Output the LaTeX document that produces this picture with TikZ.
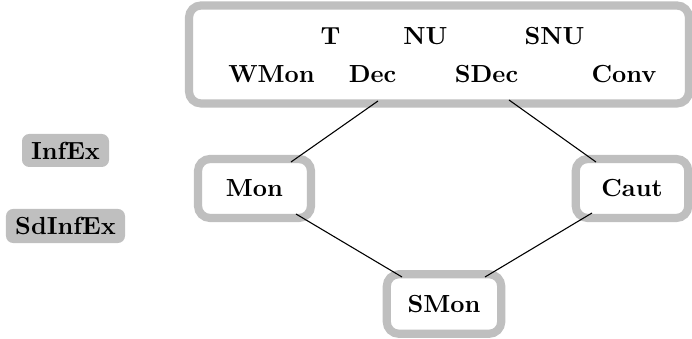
\documentclass[tikz,border=0pt]{standalone}
\begin{document}
\begin{tikzpicture}[x=0.41667pt,y=-0.41667pt,
  bfont/.style={font=\fontsize{10.3}{12}\selectfont\bfseries},
  frame/.style={draw=gray!50,line width=3.4pt,rounded corners=5pt,fill=white,inner sep=0pt,bfont},
  tag/.style={fill=gray!50,rounded corners=3pt,inner sep=0pt,bfont},
  lbl/.style={bfont,inner sep=0pt,anchor=base},
  conn/.style={draw=black,line width=0.45pt}]
\useasboundingbox (0,0) rectangle (692,339);
% boxes
\node[frame,minimum width=208.33pt,minimum height=40.83pt] (top) at (439,54.5) {};
\node[frame,minimum width=47.08pt,minimum height=24.58pt] (mon) at (254.5,188.5) {Mon};
\node[frame,minimum width=46.9pt,minimum height=24.58pt] (caut) at (632,188.5) {Caut};
\node[frame,minimum width=47.7pt,minimum height=24.8pt] (smon) at (444,304) {SMon};
\node[tag,minimum width=36.25pt,minimum height=13.75pt] (infex) at (65.5,150.5) {InfEx};
\node[tag,minimum width=49.6pt,minimum height=14.2pt] (sdinfex) at (65.5,226) {SdInfEx};
% texts in top box
\node[lbl] (t) at (330.5,45) {T};
\node[lbl] (nu) at (425.5,45) {NU};
\node[lbl] (snu) at (554.5,45) {SNU};
\node[lbl] (wmon) at (271.5,83) {WMon};
\node[lbl] (dec) at (372.5,83) {Dec};
\node[lbl] (sdec) at (486.5,83) {SDec};
\node[lbl] (conv) at (624,83) {Conv};
% connector end points
\coordinate (tl) at (378,101);
\coordinate (tr) at (509,100);
\coordinate (monN) at (291,162);
\coordinate (monS) at (296,214);
\coordinate (cautN) at (596,162);
\coordinate (cautS) at (592,213);
\coordinate (smonL) at (402,277);
\coordinate (smonR) at (485,277);
\draw[conn] (tl) -- (monN);
\draw[conn] (tr) -- (cautN);
\draw[conn] (monS) -- (smonL);
\draw[conn] (cautS) -- (smonR);
\end{tikzpicture}
\end{document}
